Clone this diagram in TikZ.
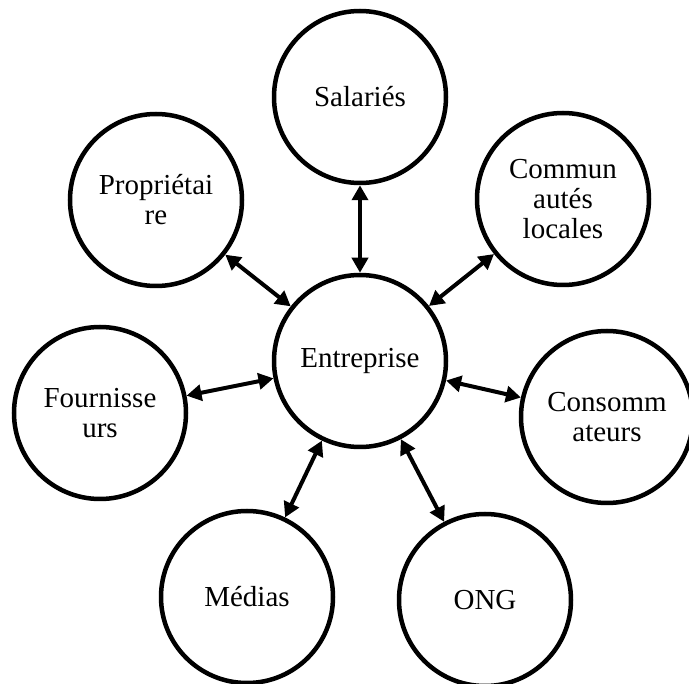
\documentclass[tikz,border=0pt]{standalone}
\usepackage{fontspec}
\setmainfont{Liberation Serif}
\usetikzlibrary{arrows.meta}
\begin{document}
\begin{tikzpicture}[x=1pt,y=-1pt,
  party/.style={circle, draw, line width=4.5pt, minimum size=172pt, inner sep=0pt,
    align=center, font=\fontsize{29}{30}\selectfont},
  link/.style={{Triangle[length=15pt,width=16pt]}-{Triangle[length=15pt,width=16pt]}, line width=4pt}]
\useasboundingbox (0,0) rectangle (689,684);
\node[party] (E) at (360,361) {Entreprise};
\node[party] (S) at (360,97) {Salariés};
\node[party] (P) at (156,200) {Propriétai\\re};
\node[party] (C) at (563,199) {Commun\\autés\\locales};
\node[party] (F) at (100,413) {Fournisse\\urs};
\node[party] (K) at (607,417) {Consomm\\ateurs};
\node[party] (M) at (247,597) {Médias};
\node[party] (O) at (485,600) {ONG};
\draw[link] (S) -- (E);
\draw[link] (P) -- (E);
\draw[link] (C) -- (E);
\draw[link] (F) -- (E);
\draw[link] (K) -- (E);
\draw[link] (M) -- (E);
\draw[link] (O) -- (E);
\end{tikzpicture}
\end{document}
